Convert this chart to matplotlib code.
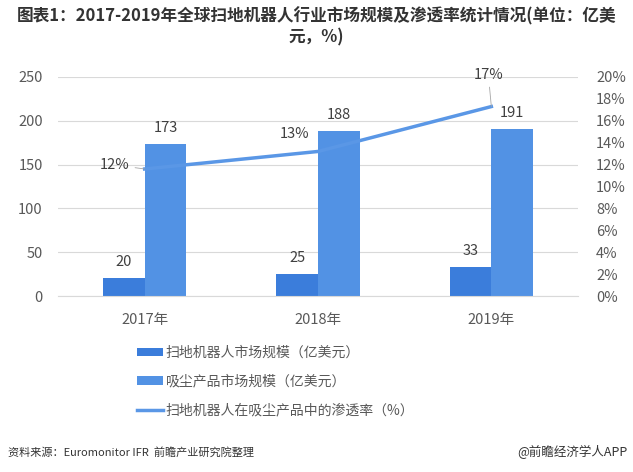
import numpy as np
import matplotlib
matplotlib.use('Agg')
import matplotlib.pyplot as plt
from matplotlib.patches import Patch
from matplotlib.lines import Line2D

# 字体设置
plt.rcParams['font.family'] = ['Noto Sans CJK SC', 'DejaVu Sans']
plt.rcParams['axes.unicode_minus'] = False

# 数据
years = ['2017年', '2018年', '2019年']
robot_market = [20, 25, 33]          # 扫地机器人市场规模（亿美元）
vacuum_market = [173, 188, 191]      # 吸尘产品市场规模（亿美元）
penetration = [11.6, 13.2, 17.3]     # 渗透率（%）
penetration_labels = ['12%', '13%', '17%']

c_dark = '#3b7ddb'
c_light = '#5292e4'
c_line = '#5a97e6'
c_text = '#595959'

fig = plt.figure(figsize=(6.33, 4.72), dpi=100)
fig.patch.set_facecolor('white')
ax = fig.add_axes([58 / 633, 1 - 296 / 472, 520 / 633, 219 / 472])
ax2 = ax.twinx()

x = np.arange(len(years))
w = 0.24

ax.bar(x - w / 2, robot_market, w, color=c_dark, zorder=2)
ax.bar(x + w / 2, vacuum_market, w, color=c_light, zorder=2)

for xi, v in zip(x - w / 2, robot_market):
    ax.annotate(str(v), (xi, v), xytext=(0, 16), textcoords='offset pixels',
                ha='center', va='center', fontsize=10.5, color='#404040')
for xi, v in zip(x + w / 2, vacuum_market):
    ax.annotate(str(v), (xi, v), xytext=(0, 16), textcoords='offset pixels',
                ha='center', va='center', fontsize=10.5, color='#404040')

ax.set_xlim(-0.5, 2.5)
ax.set_ylim(0, 250)
ax.set_yticks(np.arange(0, 251, 50))
ax.set_xticks(x)
ax.set_xticklabels(years)
ax.grid(axis='y', color='#d9d9d9', linewidth=0.8, zorder=0)
ax.set_axisbelow(True)

ax2.plot(x, penetration, color=c_line, linewidth=2.5, zorder=3)
ax2.set_ylim(0, 20)
ax2.set_yticks(np.arange(0, 21, 2))
ax2.set_yticklabels([f'{v}%' for v in range(0, 21, 2)])

# 折线数据标签
offsets = [(-30, 4), (-23, 17), (-3, 32)]
for xi, v, lab, off in zip(x, penetration, penetration_labels, offsets):
    ax2.annotate(lab, (xi, v), xytext=off, textcoords='offset pixels',
                 ha='center', va='center', fontsize=10.5, color='#404040',
                 arrowprops=dict(arrowstyle='-', color='#a6a6a6', lw=0.6,
                                 shrinkA=2, shrinkB=0) if off[0] != -23 else None)

for a in (ax, ax2):
    for s in a.spines.values():
        s.set_visible(False)
    a.tick_params(length=0, labelsize=10.5, labelcolor=c_text)
ax.tick_params(axis='y', pad=11)
ax.tick_params(axis='x', pad=12)
ax2.tick_params(axis='y', pad=13)
ax.spines['bottom'].set_visible(True)
ax.spines['bottom'].set_color('#d9d9d9')

# 标题
fig.text(0.5, 1 - 16 / 472,
         '图表1：2017-2019年全球扫地机器人行业市场规模及渗透率统计情况(单位：亿美',
         ha='center', va='center', fontsize=12, fontweight='bold', color='#333333')
fig.text(0.5, 1 - 37 / 472, '元，%)',
         ha='center', va='center', fontsize=12, fontweight='bold', color='#333333')

# 图例
handles = [
    Patch(facecolor=c_dark, label='扫地机器人市场规模（亿美元）'),
    Patch(facecolor=c_light, label='吸尘产品市场规模（亿美元）'),
    Line2D([0], [0], color=c_line, linewidth=2.5, label='扫地机器人在吸尘产品中的渗透率（%）'),
]
leg = fig.legend(handles=handles, loc='upper left', bbox_to_anchor=(137 / 633, 1 - 346 / 472),
                 frameon=False, fontsize=10, handlelength=1.9, handleheight=0.55,
                 handletextpad=0.15, labelspacing=1.05, borderpad=0, borderaxespad=0)
for t in leg.get_texts():
    t.set_color(c_text)

# 来源
fig.text(8 / 633, 1 - 452 / 472, '资料来源：Euromonitor IFR  前瞻产业研究院整理',
         ha='left', va='center', fontsize=8, color='#333333')
fig.text(628 / 633, 1 - 452 / 472, '@前瞻经济学人APP',
         ha='right', va='center', fontsize=9, color='#333333')

plt.savefig('out.png', dpi=100)
